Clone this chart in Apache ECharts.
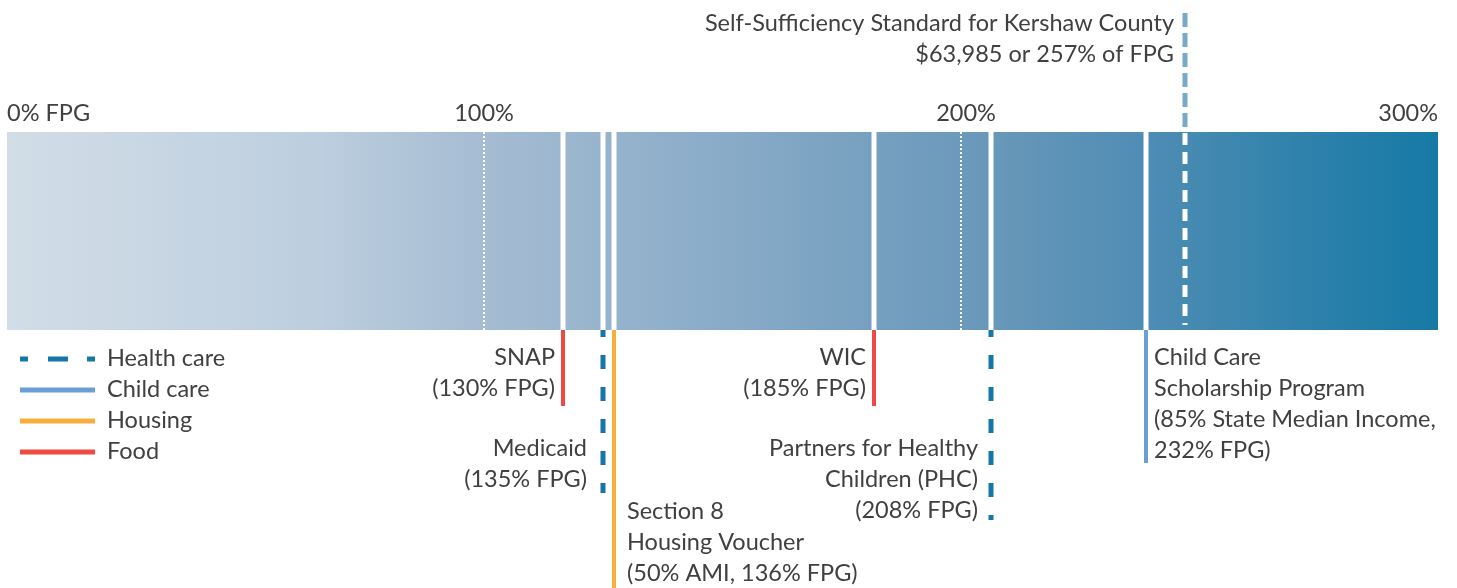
<!DOCTYPE html>
<html>
<head>
<meta charset="utf-8">
<script src="https://cdn.jsdelivr.net/npm/echarts@6/dist/echarts.min.js"></script>
<style>
  html, body { margin: 0; padding: 0; background: #fff; }
  #chart { width: 1457px; height: 588px; }
</style>
</head>
<body>
<div id="chart"></div>
<script>
// scale (percent of FPG along the bar)
const tickValues = [0, 100, 200, 300];
const tickLabels = ['0% FPG', '100%', '200%', '300%'];
const dottedValues = [100, 200];

// programs: where each cut-off sits on the drawn bar
const programNames = ['SNAP', 'Medicaid', 'Section 8', 'WIC', 'PHC', 'Child Care Scholarship'];
const programPos = [116.6, 124.9, 127.3, 181.7, 206.3, 238.7];
const programType = ['Food', 'Health care', 'Housing', 'Food', 'Health care', 'Child care'];
const programLabels = [
    ['SNAP', '(130% FPG)'],
    ['Medicaid', '(135% FPG)'],
    ['Section 8', 'Housing Voucher', '(50% AMI, 136% FPG)'],
    ['WIC', '(185% FPG)'],
    ['Partners for Healthy', 'Children (PHC)', '(208% FPG)'],
    ['Child Care', 'Scholarship Program', '(85% State Median Income,', '232% FPG)']
];

const standardPos = 247.0;
const standardLabel = ['Self-Sufficiency Standard for Kershaw County', '$63,985 or 257% of FPG'];

const categories = ['Health care', 'Child care', 'Housing', 'Food'];

// styling / layout
const catColors = {
    'Health care': '#1477a7',
    'Child care': '#6a9fd5',
    'Housing': '#f9ae3b',
    'Food': '#ee4a42'
};
const FONT = '23.5px Lato';
const TEXT = '#404040';
const LINE_H = 31;
const BAR_TOP = 132;
const BAR_BOTTOM = 330;
// per program: end of callout line, first text line centre, side of text, gap
const callout = [
    {end: 406, textY: 357, side: 'left', gap: 8},
    {end: 493, textY: 448, side: 'left', gap: 16},
    {end: 588, textY: 511, side: 'right', gap: 13},
    {end: 406, textY: 357, side: 'left', gap: 8},
    {end: 520, textY: 448, side: 'left', gap: 13},
    {end: 463, textY: 357, side: 'right', gap: 8}
];

const barGradient = {
    type: 'linear', x: 0, y: 0, x2: 1, y2: 0,
    colorStops: [
        {offset: 0, color: '#d1dde7'},
        {offset: 0.107, color: '#c8d6e3'},
        {offset: 0.219, color: '#bccedf'},
        {offset: 0.324, color: '#a7bdd3'},
        {offset: 0.484, color: '#8cadc9'},
        {offset: 0.603, color: '#77a0c0'},
        {offset: 0.694, color: '#6797b9'},
        {offset: 0.792, color: '#508db4'},
        {offset: 0.904, color: '#2f82ac'},
        {offset: 1, color: '#167aa5'}
    ]
};

const myChart = echarts.init(document.getElementById('chart'));

function textLines(lines, x, y0, align) {
    return lines.map((t, k) => ({
        type: 'text',
        style: {
            text: t, x: x, y: y0 + k * LINE_H,
            align: align, verticalAlign: 'middle',
            font: FONT, fill: TEXT
        }
    }));
}

const option = {
    animation: false,
    grid: {left: 7, right: 19, top: 0, bottom: 0},
    xAxis: {
        type: 'value', min: 0, max: 300, interval: 100,
        show: false
    },
    yAxis: {type: 'value', min: 0, max: 588, inverse: true, show: false},
    series: [
        {
            // gradient bar
            type: 'custom',
            data: [[tickValues[0], tickValues[tickValues.length - 1]]],
            renderItem: (params, api) => {
                const a = api.coord([api.value(0), BAR_TOP]);
                const b = api.coord([api.value(1), BAR_BOTTOM]);
                return {
                    type: 'rect',
                    shape: {x: a[0], y: a[1], width: b[0] - a[0], height: b[1] - a[1]},
                    style: {fill: barGradient}
                };
            }
        },
        {
            // dotted 100% / 200% guides
            type: 'custom',
            data: dottedValues.map(v => [v]),
            renderItem: (params, api) => {
                const a = api.coord([api.value(0), BAR_TOP]);
                const b = api.coord([api.value(0), BAR_BOTTOM]);
                return {
                    type: 'line',
                    shape: {x1: a[0], y1: a[1], x2: b[0], y2: b[1]},
                    style: {stroke: '#fff', lineWidth: 2, lineDash: [2, 2]}
                };
            }
        },
        {
            // tick labels
            type: 'custom',
            data: tickValues.map((v, i) => [v, i]),
            renderItem: (params, api) => {
                const i = api.value(1);
                const p = api.coord([api.value(0), 113]);
                let align = 'center';
                if (i === 0) align = 'left';
                if (i === tickValues.length - 1) align = 'right';
                return {
                    type: 'text',
                    style: {
                        text: tickLabels[i], x: p[0] + (i === 2 ? 5 : 0), y: p[1],
                        align: align, verticalAlign: 'middle', font: FONT, fill: TEXT
                    }
                };
            }
        },
        {
            // programme cut-offs
            type: 'custom',
            data: programPos.map((v, i) => [v, i]),
            renderItem: (params, api) => {
                const i = api.value(1);
                const lay = callout[i];
                const color = catColors[programType[i]];
                const top = api.coord([api.value(0), BAR_TOP]);
                const bot = api.coord([api.value(0), BAR_BOTTOM]);
                const end = api.coord([api.value(0), lay.end]);
                const x = Math.round(top[0]);
                const dashed = programType[i] === 'Health care';
                const tx = lay.side === 'left' ? x - lay.gap : x + lay.gap;
                return {
                    type: 'group',
                    children: [
                        {
                            type: 'rect',
                            shape: {x: x - 2.5, y: top[1], width: 5, height: bot[1] - top[1]},
                            style: {fill: '#fff'}
                        },
                        {
                            type: 'line',
                            shape: {x1: x, y1: bot[1], x2: x, y2: end[1]},
                            style: {
                                stroke: color, lineWidth: dashed ? 5 : 4,
                                lineDash: dashed ? [14, 18] : null,
                                lineDashOffset: 7
                            }
                        }
                    ].concat(textLines(programLabels[i], tx, lay.textY, lay.side === 'left' ? 'right' : 'left'))
                };
            }
        },
        {
            // self-sufficiency standard
            type: 'custom',
            data: [[standardPos]],
            renderItem: (params, api) => {
                const a = api.coord([api.value(0), 13]);
                const b = api.coord([api.value(0), BAR_TOP - 4]);
                const c = api.coord([api.value(0), BAR_TOP + 1]);
                const d = api.coord([api.value(0), BAR_BOTTOM - 5]);
                const x = Math.round(a[0]);
                return {
                    type: 'group',
                    children: [
                        {
                            type: 'line',
                            shape: {x1: x, y1: a[1], x2: x, y2: b[1]},
                            style: {stroke: '#79a9c8', lineWidth: 5, lineDash: [14, 6]}
                        },
                        {
                            type: 'line',
                            shape: {x1: x, y1: c[1], x2: x, y2: d[1]},
                            style: {stroke: '#fff', lineWidth: 5, lineDash: [12, 7]}
                        }
                    ].concat(textLines(standardLabel, x - 11, 23, 'right'))
                };
            }
        },
        {
            // legend
            type: 'custom',
            coordinateSystem: 'none',
            data: categories.map((c, i) => [i]),
            renderItem: (params, api) => {
                const i = api.value(0);
                const name = categories[i];
                const y = 359 + i * 31;
                const dashed = name === 'Health care';
                const line = dashed ? {
                    type: 'group',
                    children: [[20, 28], [48, 68], [87, 95]].map(s => ({
                        type: 'line',
                        shape: {x1: s[0], y1: y, x2: s[1], y2: y},
                        style: {stroke: catColors[name], lineWidth: 5}
                    }))
                } : {
                    type: 'line',
                    shape: {x1: 20, y1: y, x2: 95, y2: y},
                    style: {stroke: catColors[name], lineWidth: 5}
                };
                return {
                    type: 'group',
                    children: [line, {
                        type: 'text',
                        style: {text: name, x: 107, y: y - 1, verticalAlign: 'middle', font: FONT, fill: TEXT}
                    }]
                };
            }
        }
    ]
};

option && myChart.setOption(option);
window.addEventListener('resize', () => {
    myChart.resize();
});
</script>
</body>
</html>
